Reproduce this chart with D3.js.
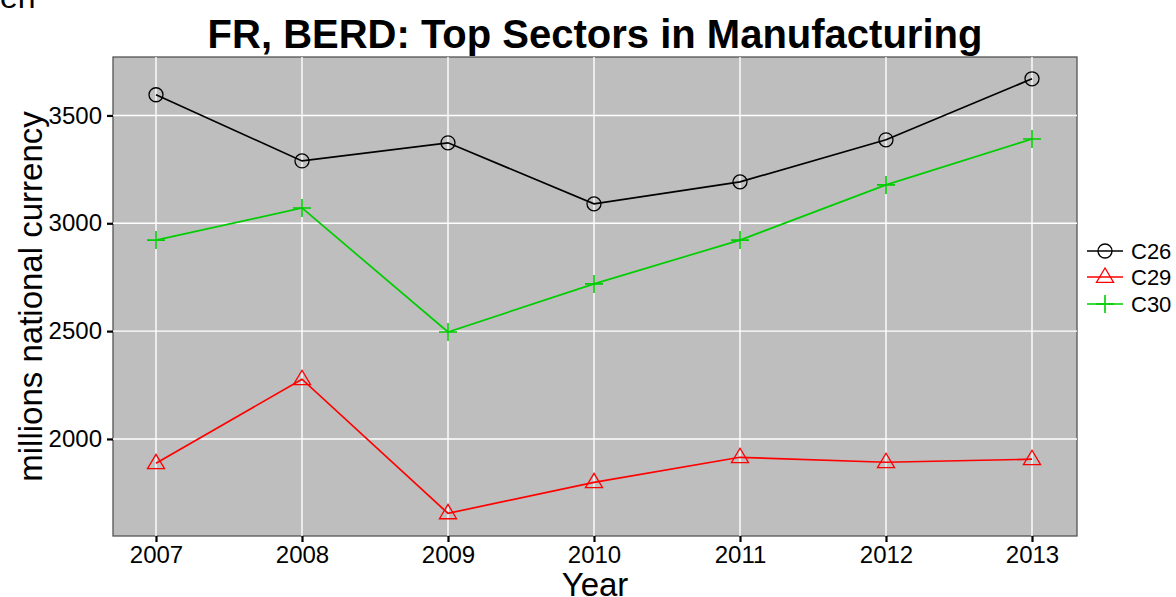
<!DOCTYPE html>
<html><head><meta charset="utf-8">
<script src="https://cdn.jsdelivr.net/npm/d3@7"></script>
<style>body{margin:0;background:#fff}svg{display:block;font-family:"Liberation Sans",Arial,sans-serif}</style>
</head><body><svg id="c" width="1176" height="597"></svg>
<script>
const years = [2007, 2008, 2009, 2010, 2011, 2012, 2013];
const c26 = [3596, 3289, 3373, 3090, 3192, 3387, 3670];
const c29 = [1887, 2277, 1655, 1799, 1915, 1892, 1906];
const c30 = [2922, 3071, 2496, 2719, 2922, 3178, 3391];
const yTicks = [2000, 2500, 3000, 3500];
const seriesNames = ["C26", "C29", "C30"];
const seriesColors = ["#000000", "#FF0000", "#00CD00"];
const seriesShapes = ["circle", "triangle", "plus"];
const seriesVals = [c26, c29, c30];

const svg = d3.select("#c");
const L = 113, R = 1077, T = 57, B = 536;
const x = d3.scaleLinear().range([L, R]);
x.domain([2007 - (156 - L) / 146, 2013 + (R - 1032) / 146]);
const y = d3.scaleLinear().domain([1550, 3771]).range([B, T]);

// top-left cut text
svg.append("text").attr("x", 0).attr("y", 8).attr("font-size", 32).text("en");

svg.append("rect").attr("x", L).attr("y", T).attr("width", R - L).attr("height", B - T)
  .attr("fill", "#BEBEBE").attr("stroke", "#555").attr("stroke-width", 1.3);

const g = svg.append("g");
g.selectAll(".gy").data(yTicks).join("line")
  .attr("x1", L).attr("x2", R).attr("y1", d => y(d)).attr("y2", d => y(d))
  .attr("stroke", "#fff").attr("stroke-width", 1.4);
g.selectAll(".gx").data(years).join("line")
  .attr("x1", d => x(d)).attr("x2", d => x(d)).attr("y1", T).attr("y2", B)
  .attr("stroke", "#fff").attr("stroke-width", 1.4);

const yAxis = d3.axisLeft(y).tickValues(yTicks).tickSize(6).tickPadding(5).tickFormat(d3.format("d"));
const ya = svg.append("g").attr("transform", `translate(${L},0)`).call(yAxis);
ya.select(".domain").remove();
ya.selectAll("line").attr("stroke", "#000").attr("stroke-width", 2.2);
ya.selectAll("text").attr("font-size", 24).attr("fill", "#000").attr("font-family", "Liberation Sans, Arial, sans-serif");

const xAxis = d3.axisBottom(x).tickValues(years).tickSize(6).tickPadding(4).tickFormat(d3.format("d"));
const xa = svg.append("g").attr("transform", `translate(0,${B})`).call(xAxis);
xa.select(".domain").remove();
xa.selectAll("line").attr("stroke", "#000").attr("stroke-width", 2.2);
xa.selectAll("text").attr("font-size", 24).attr("fill", "#000").attr("font-family", "Liberation Sans, Arial, sans-serif");

svg.append("text").attr("x", 595).attr("y", 48).attr("text-anchor", "middle")
  .attr("font-size", 40).attr("font-weight", "bold").text("FR, BERD: Top Sectors in Manufacturing");
svg.append("text").attr("x", 595).attr("y", 596).attr("text-anchor", "middle")
  .attr("font-size", 33).text("Year");
svg.append("text").attr("transform", `translate(42,${(T + B) / 2}) rotate(-90)`).attr("text-anchor", "middle")
  .attr("font-size", 33).text("millions national currency");

function drawShape(sel, shape, color, cx, cy) {
  if (shape === "circle") {
    sel.append("circle").attr("cx", cx).attr("cy", cy).attr("r", 7).attr("fill", "none").attr("stroke", color).attr("stroke-width", 1.3);
  } else if (shape === "triangle") {
    const r = 9;
    const pts = [[cx, cy - r], [cx - r * 0.95, cy + r * 0.6], [cx + r * 0.95, cy + r * 0.6]];
    sel.append("polygon").attr("points", pts.map(p => p.join(",")).join(" ")).attr("fill", "none").attr("stroke", color).attr("stroke-width", 1.3);
  } else {
    const r = 9;
    sel.append("path").attr("d", `M${cx - r},${cy}H${cx + r}M${cx},${cy - r}V${cy + r}`).attr("stroke", color).attr("stroke-width", 1.6);
  }
}

const line = d3.line().x(d => x(d[0])).y(d => y(d[1]));
seriesVals.forEach((vals, i) => {
  const pts = years.map((yr, j) => [yr, vals[j]]);
  svg.append("path").datum(pts).attr("d", line).attr("fill", "none").attr("stroke", seriesColors[i]).attr("stroke-width", 1.7);
  const mg = svg.append("g");
  pts.forEach(p => drawShape(mg, seriesShapes[i], seriesColors[i], x(p[0]), y(p[1])));
});

const lgY = [251, 277, 304];
seriesNames.forEach((n, i) => {
  const gg = svg.append("g");
  gg.append("line").attr("x1", 1087).attr("x2", 1123).attr("y1", lgY[i]).attr("y2", lgY[i]).attr("stroke", seriesColors[i]).attr("stroke-width", 1.7);
  drawShape(gg, seriesShapes[i], seriesColors[i], 1105, lgY[i]);
  gg.append("text").attr("x", 1131).attr("y", lgY[i] + 8).attr("font-size", 22).text(n);
});
</script></body></html>
